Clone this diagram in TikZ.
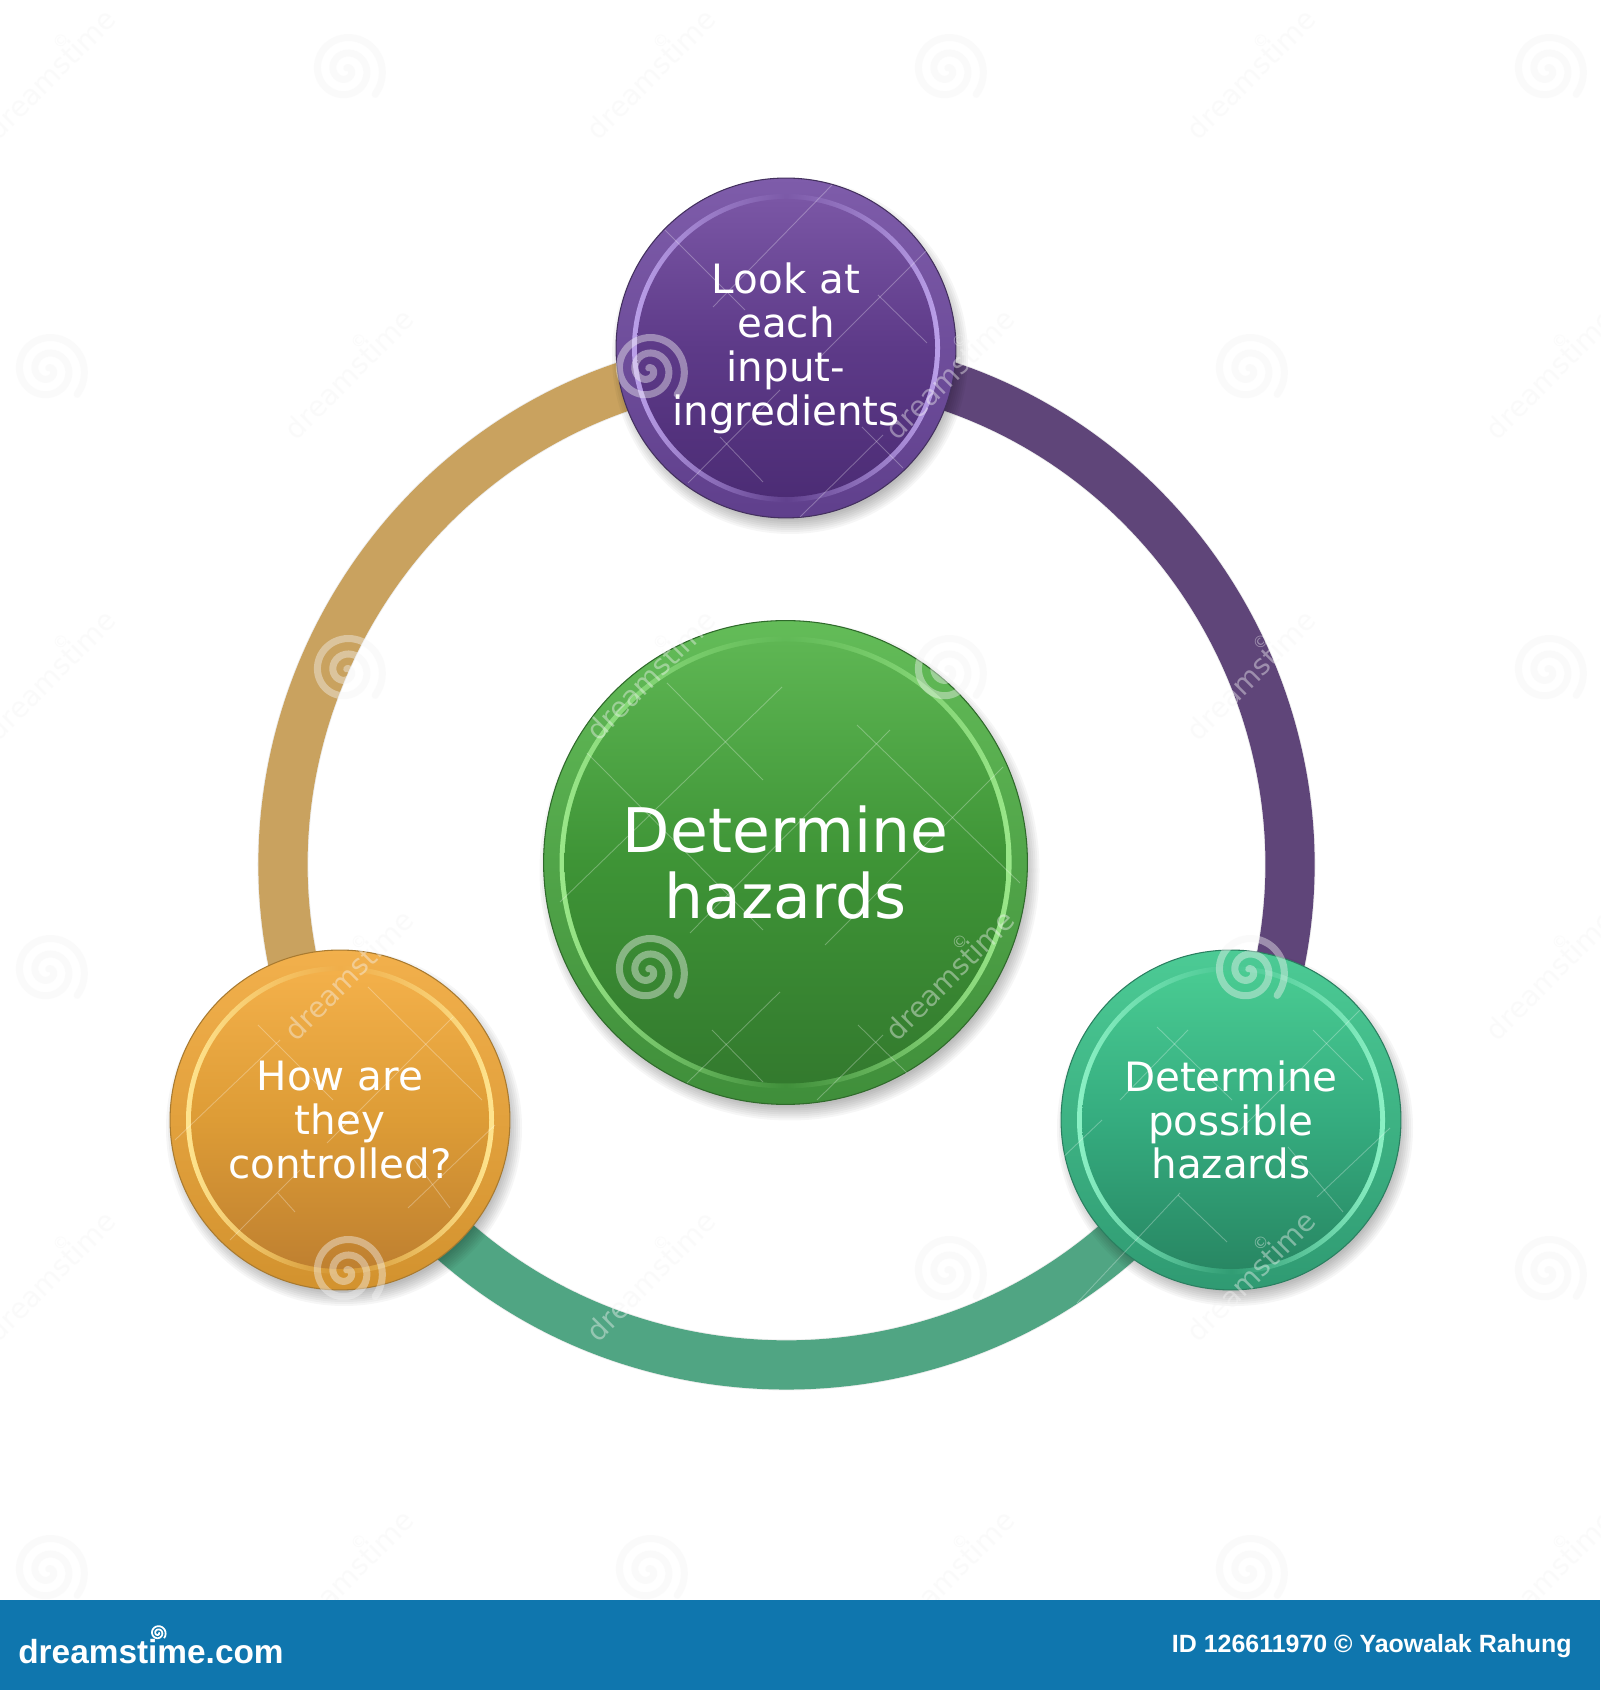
\documentclass[tikz,border=0pt]{standalone}
\usepackage{fontspec}
\setmainfont{DejaVu Sans}
\newfontfamily\bannerfont{Liberation Sans}
\usetikzlibrary{backgrounds,fadings}
\tikzfading[name=sidesfade,left color=transparent!0,right color=transparent!0,middle color=transparent!100]
\definecolor{PRimT}{HTML}{7E5CAA}\definecolor{PRimB}{HTML}{5F3F8C}
\definecolor{PTop}{HTML}{7A56A5}\definecolor{PMid}{HTML}{5D3A88}\definecolor{PBot}{HTML}{4C2C75}
\definecolor{PHi}{HTML}{BBA0EA}\definecolor{PEdge}{HTML}{43305E}
\definecolor{GRimT}{HTML}{63BC58}\definecolor{GRimB}{HTML}{3F8E3A}
\definecolor{GTop}{HTML}{5EB653}\definecolor{GMid}{HTML}{3E9436}\definecolor{GBot}{HTML}{337A2E}
\definecolor{GHi}{HTML}{9BE88A}\definecolor{GEdge}{HTML}{2F6A2B}
\definecolor{TRimT}{HTML}{4CCB95}\definecolor{TRimB}{HTML}{2F9A72}
\definecolor{TTop}{HTML}{49CB92}\definecolor{TMid}{HTML}{35AC7F}\definecolor{TBot}{HTML}{288763}
\definecolor{THi}{HTML}{8CF2C6}\definecolor{TEdge}{HTML}{2A7F60}
\definecolor{ORimT}{HTML}{F2B04C}\definecolor{ORimB}{HTML}{D2922E}
\definecolor{OTop}{HTML}{F3B04A}\definecolor{OMid}{HTML}{DD9C36}\definecolor{OBot}{HTML}{BF8030}
\definecolor{OHi}{HTML}{FFE58F}\definecolor{OEdge}{HTML}{A87A30}
\definecolor{ringP}{HTML}{5F4579}\definecolor{ringT}{HTML}{50A583}\definecolor{ringO}{HTML}{C9A25F}
\definecolor{bannerblue}{HTML}{0F76AE}
\tikzset{
  x=0.02cm,y=0.02cm,
  hub/.style n args={3}{circle,inner sep=0pt,minimum size=#1*0.04cm,draw=#2Edge,line width=0.6pt,
    text=white,align=center,font=#3,
    path picture={
      \coordinate (pc) at (path picture bounding box.center);
      \shade[top color=#2RimT,bottom color=#2RimB] (pc) circle[radius=#1+2];
      \fill[#2Hi,path fading=sidesfade] (pc) circle[radius=#1-16];
      \shade[top color=#2Top,bottom color=#2Bot,middle color=#2Mid] (pc) circle[radius=#1-21];
    }},
  ringarc/.style={line width=28pt,line cap=butt},
  ringshadow/.style={line width=29pt,draw=black,draw opacity=0.07},
  hubshadow/.style={fill=black,fill opacity=0.035},
  wmspiral/.style={draw=white!96!black,draw opacity=0.42,line width=4pt,line cap=round},
  wmtext/.style={text=white!96!black,text opacity=0.42,rotate=45,font=\fontsize{16}{16}\selectfont},
  wmcross/.style={draw=white,draw opacity=0.28,line width=0.5pt},
  bannerbar/.style={fill=bannerblue,draw=none,minimum width=32cm,minimum height=1.8cm,inner sep=0pt},
  bannertext/.style={text=white,inner sep=0pt},
}
\newcommand{\hubshadowat}[3]{%
  \foreach \k in {0,...,7}{\fill[hubshadow] (#1+4,#2-8) circle[radius=#3+8-2*\k];}}
\newcommand{\smalltext}{\fontsize{23}{25}\selectfont}
\newcommand{\bigtext}{\fontsize{35}{38}\selectfont}
\begin{document}
\begin{tikzpicture}
\useasboundingbox (0,0) rectangle (1600,1690);

% hubs
\hubshadowat{786}{1342}{170}
\hubshadowat{1231}{570}{170}
\hubshadowat{340}{570}{170}
\hubshadowat{785.5}{827.5}{242}
\node[hub={170}{P}{\smalltext}] (look) at (786,1342) {Look at\\each\\input-\\ingredients};
\node[hub={170}{T}{\smalltext}] (possible) at (1231,570) {Determine\\possible\\hazards};
\node[hub={170}{O}{\smalltext}] (control) at (340,570) {How are\\they\\controlled?};
\node[hub={242}{G}{\bigtext}] (centre) at (785.5,827.5) {Determine\\hazards};

% ring joints, under the hubs, on one true circle
\path (look.center) ++(0.5,-12) coordinate (jlook);
\path (possible.center) ++(-8.9,5.5) coordinate (jpossible);
\path (control.center) ++(10.9,5.5) coordinate (jcontrol);

% ring
\begin{scope}[on background layer]
  \fill[white] (0,0) rectangle (1600,1690);
  \begin{scope}[shift={(3,-5)}]
    \draw[ringshadow] (jlook) to[out=0,in=60,looseness=1.135] (jpossible);
    \draw[ringshadow] (jpossible) to[out=240,in=300,looseness=1.135] (jcontrol);
    \draw[ringshadow] (jcontrol) to[out=120,in=180,looseness=1.135] (jlook);
  \end{scope}
  \draw[ringarc,draw=ringP] (jlook) to[out=0,in=60,looseness=1.135] (jpossible);
  \draw[ringarc,draw=ringT] (jpossible) to[out=240,in=300,looseness=1.135] (jcontrol);
  \draw[ringarc,draw=ringO] (jcontrol) to[out=120,in=180,looseness=1.135] (jlook);
\end{scope}

% thin watermark lines, typed in top-down pixel coordinates
\begin{scope}[shift={(0,1690)},yscale=-1]
  \foreach \xa/\ya/\xb/\yb in {
    665/230/745/310, 878/295/927/343, 720/437/763/482, 862/427/903/468,
    832/185/713/307, 927/250/820/357, 780/390/688/483, 883/435/800/517,
    667/683/763/780, 857/725/1020/883, 587/753/763/930, 712/1030/763/1082, 858/1025/907/1073,
    782/687/560/902, 890/730/690/933, 1003/767/825/945, 780/992/687/1083, 883/1035/817/1100,
    1157/1027/1232/1100, 1313/1030/1363/1080, 1178/1195/1227/1242, 1288/1147/1343/1212,
    1188/1030/1120/1100, 1360/1010/1237/1133, 1102/1120/1057/1163, 1180/1193/1077/1303, 1390/1128/1317/1197,
    258/1025/333/1100, 368/987/482/1100, 278/1193/295/1212, 412/1157/450/1208,
    280/1040/175/1140, 453/1017/327/1143, 300/1170/230/1240, 495/1125/408/1208}
    {\draw[wmcross] (\xa,\ya) -- (\xb,\yb);}
\end{scope}

% watermark
\foreach \sx/\sy in {346/1620,947/1620,1547/1620,48/1320,648/1320,1248/1320,
                     346/1019,947/1019,1547/1019,48/719,648/719,1248/719,
                     346/418,947/418,1547/418,48/119,648/119,1248/119}
  {\draw[wmspiral] plot[domain=0:830,samples=70,smooth] ({\sx+38*(1-\x/880)*cos(\x-40)},{\sy+38*(1-\x/880)*sin(\x-40)});}
\foreach \tx/\ty [count=\i] in {47/1620,647/1620,1247/1620,345/1320,946/1320,1546/1320,
                     47/1019,647/1019,1247/1019,345/719,946/719,1546/719,
                     47/418,647/418,1247/418,345/119,946/119,1546/119}
  {\node[wmtext] (wm\i) at (\tx,\ty) {dreamst\rlap{\kern-.35em\raisebox{.75em}{\fontsize{9}{9}\selectfont ©}}ime};}

% banner
\node[bannerbar,anchor=south west] (banner) at (0,0) {};
\node[bannertext,anchor=base west,font=\bannerfont\bfseries\fontsize{19}{19}\selectfont] (logo) at (18,27) {dreamstime.com};
\node[bannertext,anchor=base east,font=\bannerfont\bfseries\fontsize{14.2}{14}\selectfont] (credit) at (1572,37) {ID 126611970 © Yaowalak Rahung};
\draw[white,line width=1pt] plot[domain=0:800,samples=50,smooth] ({158+8*(1-\x/880)*cos(\x-40)},{57+8*(1-\x/880)*sin(\x-40)});
\end{tikzpicture}
\end{document}
